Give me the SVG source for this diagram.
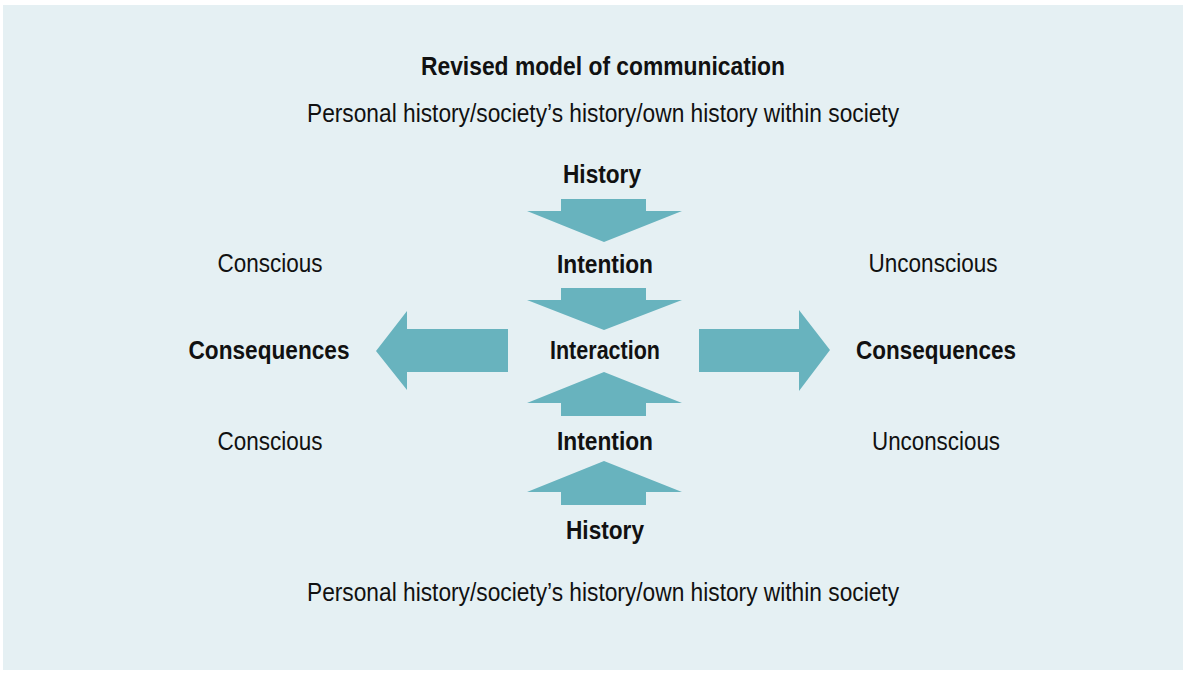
<svg xmlns="http://www.w3.org/2000/svg" width="1189" height="678" viewBox="0 0 1189 678">
<style>
  .t { font-family: "Liberation Sans", Arial, sans-serif; font-size: 26px; fill: #111; text-anchor: middle; }
  .b { font-weight: bold; }
  .arrow { fill: #68b3be; }
</style>
<rect x="0" y="0" width="1189" height="678" fill="#ffffff"/>
<rect x="3" y="5" width="1180" height="665" fill="#e5f0f3"/>
<g id="connectors">
  <polygon class="arrow" points="561,199 646,199 646,211 682,211 604,242 527,211 561,211"/>
  <polygon class="arrow" points="561,288 646,288 646,300 682,300 604,330 527,300 561,300"/>
  <polygon class="arrow" points="604,372 682,403 646,403 646,416 561,416 561,403 527,403"/>
  <polygon class="arrow" points="604,461 682,492 646,492 646,505 561,505 561,492 527,492"/>
  <polygon class="arrow" points="376,351 407,311 407,329 508,329 508,372 407,372 407,390"/>
  <polygon class="arrow" points="699,329 799,329 799,310 830,350 799,391 799,372 699,372"/>
</g>
<g id="title"><text class="t b" x="603" y="75" textLength="364" lengthAdjust="spacingAndGlyphs">Revised model of communication</text></g>
<g id="history-text-top"><text class="t" x="603" y="122" textLength="592" lengthAdjust="spacingAndGlyphs">Personal history/society’s history/own history within society</text></g>
<g id="history-top"><text class="t b" x="602" y="183" textLength="78" lengthAdjust="spacingAndGlyphs">History</text></g>
<g id="intention-top"><text class="t b" x="605" y="273" textLength="96" lengthAdjust="spacingAndGlyphs">Intention</text></g>
<g id="conscious-top"><text class="t" x="270" y="272" textLength="105" lengthAdjust="spacingAndGlyphs">Conscious</text></g>
<g id="unconscious-top"><text class="t" x="933" y="272" textLength="129" lengthAdjust="spacingAndGlyphs">Unconscious</text></g>
<g id="consequences-left"><text class="t b" x="269" y="359" textLength="161" lengthAdjust="spacingAndGlyphs">Consequences</text></g>
<g id="interaction"><text class="t b" x="605" y="359" textLength="110" lengthAdjust="spacingAndGlyphs">Interaction</text></g>
<g id="consequences-right"><text class="t b" x="936" y="359" textLength="160" lengthAdjust="spacingAndGlyphs">Consequences</text></g>
<g id="conscious-bottom"><text class="t" x="270" y="450" textLength="105" lengthAdjust="spacingAndGlyphs">Conscious</text></g>
<g id="intention-bottom"><text class="t b" x="605" y="450" textLength="96" lengthAdjust="spacingAndGlyphs">Intention</text></g>
<g id="unconscious-bottom"><text class="t" x="936" y="450" textLength="128" lengthAdjust="spacingAndGlyphs">Unconscious</text></g>
<g id="history-bottom"><text class="t b" x="605" y="539" textLength="78" lengthAdjust="spacingAndGlyphs">History</text></g>
<g id="history-text-bottom"><text class="t" x="603" y="601" textLength="592" lengthAdjust="spacingAndGlyphs">Personal history/society’s history/own history within society</text></g>
</svg>
